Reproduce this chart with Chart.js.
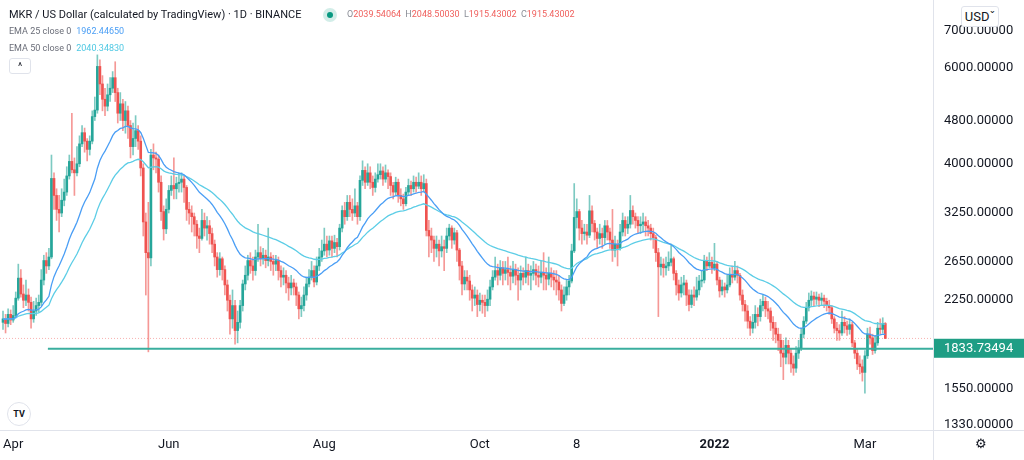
<!DOCTYPE html>
<html lang="en">
<head>
<meta charset="UTF-8">
<title>MKR / US Dollar</title>
<script src="https://cdn.jsdelivr.net/npm/chart.js"></script>
<style>
  body { margin: 0; background: #fff; font-family: Roboto, "Noto Sans", sans-serif; color: #131722; }
  #wrap { position: relative; width: 1024px; height: 460px; overflow: hidden; }
  #chart { position: absolute; left: 0; top: 0; }
  .ov { position: absolute; white-space: nowrap; line-height: 1; }
  .title { left: 9px; top: 9px; font-size: 11px; }
  .dot { left: 323px; top: 8px; width: 14px; height: 14px; border-radius: 50%; background: rgba(8,153,129,0.18); }
  .dot::after { content: ""; position: absolute; left: 4px; top: 4px; width: 6px; height: 6px; border-radius: 50%; background: #089981; }
  .ohlc { left: 347px; top: 10px; font-size: 9px; color: #f0605d; word-spacing: 2px; }
  .ohlc b { font-weight: normal; color: #8a8d96; }
  .ema { left: 9px; font-size: 9px; color: #6a6d78; }
  .ema span { margin-left: 5px; }
  .btn { left: 9px; top: 58px; width: 20px; height: 14px; border: 1px solid #e0e3eb; border-radius: 3px; font-size: 10px; text-align: center; line-height: 16px; color: #131722; background: #fff; }
  .usd { left: 961px; top: 6px; width: 36px; height: 19px; border: 1px solid #e0e3eb; border-radius: 3px; font-size: 13px; line-height: 19px; text-align: center; background: #fff; }
  .logo { left: 7px; top: 402px; width: 22px; height: 22px; border-radius: 50%; border: 1px solid #e0e3eb; font-size: 9px; font-weight: bold; text-align: center; line-height: 22px; background: #fff; }
  .gear { left: 975px; top: 437px; font-size: 13px; color: #131722; }
</style>
</head>
<body>
<div id="wrap">
  <canvas id="chart" width="1024" height="460"></canvas>
  <div class="ov title">MKR / US Dollar (calculated by TradingView) · 1D · BINANCE</div>
  <div class="ov dot"></div>
  <div class="ov ohlc"><b>O</b>2039.54064 <b>H</b>2048.50030 <b>L</b>1915.43002 <b>C</b>1915.43002</div>
  <div class="ov ema" style="top:27px">EMA 25 close 0<span style="color:#4a9ef5">1962.44650</span></div>
  <div class="ov ema" style="top:44px">EMA 50 close 0<span style="color:#4fc8e3">2040.34830</span></div>
  <div class="ov btn">^</div>
  <div class="ov usd">USD&#711;</div>
  <div class="ov logo">TV</div>
  <div class="ov gear">&#9881;</div>
</div>
<script>
// daily MKR/USD candles from 2021-03-28, open = previous close
const firstOpen = 2050;
const closes = [
  2080, 2040, 2120, 2070, 2110, 2270, 2470, 2310, 2250, 2300,
  2230, 2080, 2150, 2200, 2230, 2450, 2660, 2600, 2700, 3760,
  3500, 3300, 3250, 3430, 3550, 3800, 4040, 3900, 3850, 4000,
  4350, 4560, 4400, 4250, 4400, 4880, 5016, 6030, 5600, 5250,
  5100, 5350, 5500, 5750, 5400, 4950, 5150, 4800, 5000, 4700,
  4300, 4450, 4600, 4400, 3930, 3130, 2750, 2690, 4150, 4100,
  4080, 3700, 3270, 3040, 3300, 3575, 3650, 3600, 3680, 3700,
  3750, 3620, 3300, 3250, 3200, 3100, 2950, 2920, 3150, 3050,
  3080, 2980, 2850, 2700, 2560, 2680, 2560, 2400, 2250, 2080,
  2200, 1980, 2050, 2200, 2410, 2500, 2660, 2600, 2550, 2700,
  2750, 2680, 2720, 2660, 2700, 2650, 2620, 2660, 2550, 2480,
  2500, 2420, 2370, 2420, 2380, 2300, 2170, 2200, 2300, 2410,
  2480, 2550, 2430, 2600, 2700, 2770, 2850, 2780, 2890, 2800,
  2870, 2820, 3050, 3285, 3200, 3400, 3300, 3250, 3350, 3200,
  3730, 3890, 3700, 3850, 3700, 3620, 3750, 3820, 3880, 3750,
  3850, 3790, 3650, 3550, 3700, 3500, 3450, 3380, 3550, 3650,
  3600, 3700, 3640, 3700, 3600, 3680, 3020, 2950, 2900, 2800,
  2850, 2770, 2820, 2800, 2950, 3050, 2900, 2990, 2780, 2600,
  2410, 2480, 2440, 2350, 2270, 2300, 2210, 2250, 2230, 2200,
  2260, 2380, 2480, 2550, 2500, 2580, 2520, 2560, 2530, 2490,
  2560, 2500, 2450, 2520, 2480, 2550, 2500, 2520, 2560, 2500,
  2480, 2530, 2500, 2460, 2520, 2480, 2450, 2430, 2350, 2220,
  2300, 2380, 2440, 2770, 3190, 3270, 3050, 2980, 3000, 2960,
  3280, 3110, 3000, 2920, 2980, 2930, 3080, 3000, 2900, 2780,
  2850, 2800, 3000, 3150, 3050, 3100, 3285, 3200, 3150, 3080,
  3100, 3130, 3080, 3050, 2980, 2930, 2750, 2590, 2620, 2580,
  2600, 2640, 2680, 2520, 2400, 2320, 2400, 2420, 2300, 2210,
  2300, 2280, 2350, 2440, 2450, 2660, 2600, 2640, 2580, 2620,
  2450, 2340, 2380, 2350, 2400, 2500, 2480, 2550, 2500, 2300,
  2210, 2150, 2060, 2000, 2050, 2120, 2100, 2200, 2240, 2170,
  2150, 2050, 2000, 1950, 1900, 1800, 1770, 1860, 1800, 1720,
  1690, 1800, 1840, 1950, 2060, 2180, 2250, 2290, 2260, 2280,
  2250, 2270, 2240, 2200, 2180, 2080, 2000, 1980, 1960, 2050,
  2020, 1990, 2030, 1880, 1800, 1720, 1700, 1660, 1780, 1950,
  1920, 1820, 1880, 2000, 1990, 2039.54, 1915.43
];
const highs = [
  2150, 2120, 2170, 2160, 2200, 2330, 2620, 2560, 2400, 2450,
  2360, 2280, 2240, 2270, 2300, 2560, 2720, 2750, 2800, 4150,
  3850, 3600, 3500, 3600, 3750, 3950, 4150, 4950, 4100, 4300,
  4500, 4700, 4650, 4450, 4500, 5000, 5300, 6330, 6200, 5800,
  5500, 5600, 5750, 5900, 6150, 5500, 5400, 5250, 5200, 5100,
  4800, 4750, 4900, 4700, 4500, 4000, 3250, 3400, 4250, 4350,
  4200, 4150, 3800, 3350, 3450, 3650, 3800, 4100, 3780, 3850,
  3850, 3800, 3650, 3400, 3350, 3250, 3150, 3050, 3300, 3250,
  3200, 3150, 3050, 2900, 2750, 2750, 2700, 2600, 2450, 2300,
  2350, 2250, 2150, 2250, 2450, 2600, 2720, 2750, 2700, 2780,
  3100, 2820, 2800, 2780, 3050, 2750, 2720, 2720, 2700, 2600,
  2580, 2550, 2480, 2500, 2460, 2420, 2330, 2280, 2380, 2480,
  2560, 2650, 2600, 2700, 2800, 2900, 3050, 2950, 2950, 2950,
  2960, 2920, 3100, 3350, 3400, 3500, 3500, 3450, 3600, 3400,
  3800, 4050, 3950, 4000, 3950, 3800, 3850, 4000, 4000, 3950,
  3980, 3900, 3850, 3700, 3780, 3750, 3600, 3520, 3620, 3750,
  3720, 3800, 3780, 3850, 3800, 3820, 3750, 3150, 3050, 2950,
  2950, 2900, 2950, 2900, 3050, 3100, 3080, 3050, 3020, 2800,
  2650, 2550, 2550, 2500, 2400, 2380, 2350, 2320, 2300, 2300,
  2350, 2450, 2550, 2700, 2620, 2660, 2650, 2650, 2700, 2600,
  2650, 2620, 2580, 2600, 2580, 2700, 2620, 2600, 2650, 2620,
  2600, 2650, 2750, 2580, 2700, 2580, 2550, 2550, 2500, 2400,
  2380, 2450, 2500, 2850, 3680, 3450, 3300, 3150, 3100, 3100,
  3500, 3350, 3150, 3050, 3100, 3050, 3150, 3150, 3050, 3300,
  2950, 2900, 3100, 3250, 3200, 3200, 3500, 3350, 3250, 3200,
  3200, 3250, 3200, 3150, 3100, 3050, 2960, 2800, 2700, 2680,
  2700, 2760, 2850, 2700, 2550, 2450, 2480, 2500, 2450, 2350,
  2350, 2380, 2480, 2500, 2550, 2720, 2700, 2750, 2700, 2860,
  2650, 2480, 2450, 2420, 2500, 2580, 2600, 2650, 2600, 2520,
  2350, 2250, 2200, 2100, 2120, 2200, 2180, 2260, 2300, 2280,
  2240, 2180, 2100, 2050, 2000, 1950, 1900, 1920, 1900, 1830,
  1780, 1850, 1900, 2000, 2100, 2230, 2320, 2340, 2330, 2330,
  2310, 2320, 2300, 2270, 2250, 2200, 2100, 2050, 2030, 2150,
  2100, 2060, 2080, 2050, 1900, 1830, 1780, 1750, 1820, 2000,
  2010, 1950, 1940, 2050, 2080, 2090, 2048.5
];
const lows = [
  1990, 1960, 2010, 2030, 2050, 2090, 2250, 2280, 2180, 2200,
  2150, 2000, 2050, 2110, 2140, 2200, 2400, 2520, 2560, 2680,
  3300, 3150, 3000, 3200, 3350, 3500, 3750, 3850, 3500, 3800,
  3950, 4300, 4200, 4050, 4150, 4350, 4800, 4950, 5350, 5000,
  4900, 5000, 5200, 5400, 5200, 4750, 4800, 4600, 4550, 4450,
  4100, 4150, 4300, 4250, 3800, 2950, 2300, 1810, 2600, 3900,
  3850, 3550, 3150, 2900, 2980, 3250, 3500, 3450, 3450, 3550,
  3550, 3400, 3150, 3100, 3000, 2950, 2800, 2750, 2900, 2950,
  2900, 2850, 2750, 2600, 2480, 2500, 2450, 2300, 2150, 1950,
  2000, 1870, 1880, 2000, 2150, 2350, 2450, 2520, 2450, 2500,
  2650, 2600, 2620, 2580, 2600, 2550, 2500, 2550, 2450, 2380,
  2400, 2320, 2250, 2300, 2300, 2200, 2080, 2100, 2150, 2250,
  2380, 2450, 2380, 2400, 2550, 2650, 2720, 2700, 2720, 2700,
  2750, 2700, 2780, 3000, 3100, 3150, 3200, 3150, 3200, 3100,
  3150, 3650, 3600, 3650, 3600, 3500, 3550, 3700, 3750, 3650,
  3700, 3600, 3500, 3450, 3500, 3400, 3350, 3300, 3350, 3500,
  3500, 3550, 3550, 3600, 3500, 3550, 2950, 2700, 2750, 2650,
  2700, 2600, 2700, 2550, 2750, 2900, 2800, 2850, 2650, 2450,
  2300, 2350, 2350, 2250, 2150, 2200, 2100, 2150, 2130, 2100,
  2150, 2200, 2350, 2450, 2400, 2450, 2400, 2450, 2400, 2350,
  2420, 2400, 2250, 2350, 2400, 2420, 2400, 2350, 2450, 2400,
  2380, 2420, 2350, 2350, 2400, 2380, 2350, 2300, 2250, 2150,
  2200, 2250, 2300, 2420, 2750, 3050, 2900, 2850, 2900, 2850,
  2930, 3000, 2900, 2800, 2850, 2800, 2850, 2900, 2800, 2650,
  2700, 2600, 2780, 2950, 2950, 2980, 3050, 3100, 3050, 2980,
  2980, 3000, 2950, 2950, 2900, 2800, 2650, 2100, 2500, 2480,
  2500, 2550, 2600, 2450, 2300, 2250, 2280, 2300, 2200, 2150,
  2180, 2200, 2250, 2300, 2380, 2420, 2550, 2580, 2520, 2550,
  2400, 2280, 2300, 2280, 2320, 2380, 2420, 2450, 2420, 2250,
  2150, 2060, 2000, 1940, 1960, 2000, 2020, 2060, 2150, 2100,
  2080, 1980, 1900, 1880, 1820, 1700, 1610, 1720, 1720, 1660,
  1640, 1660, 1760, 1820, 1920, 2040, 2150, 2200, 2200, 2210,
  2190, 2200, 2180, 2150, 2120, 2040, 1960, 1900, 1900, 1940,
  1960, 1940, 1950, 1850, 1760, 1680, 1650, 1600, 1520, 1760,
  1870, 1790, 1800, 1860, 1950, 1960, 1915.43
];

const startDate = Date.UTC(2021, 2, 28);
const dates = closes.map((_, i) => new Date(startDate + i * 86400000).toISOString().slice(0, 10));

const tickDates = ["2021-04-01", "2021-06-01", "2021-08-01", "2021-10-01", "2021-11-08", "2022-01-01", "2022-03-01"];
const tickLabels = ["Apr", "Jun", "Aug", "Oct", "8", "2022", "Mar"];
const priceTicks = [7000, 6000, 4800, 4000, 3250, 2650, 2250, 1550, 1330];

const supportLevel = 1833.73494;
const supportFrom = 17.6;      // candle index where the drawn level starts
const lastPrice = closes[closes.length - 1];

const opens = closes.map((c, i) => i === 0 ? firstOpen : closes[i - 1]);

function ema(values, len) {
  const k = 2 / (len + 1);
  const out = [];
  values.forEach((v, i) => out.push(i === 0 ? v : v * k + out[i - 1] * (1 - k)));
  return out;
}
const ema25 = ema(closes, 25);
const ema50 = ema(closes, 50);

const GREEN = "#26a69a", RED = "#ef5350";
const isUp = closes.map((c, i) => c >= opens[i]);

const xMin = -1.18, xMax = 364.7;
const yMin = 1302, yMax = 7878;
const tickIdx = tickDates.map(d => dates.indexOf(d));

const frame = {
  id: "frame",
  afterDraw(chart) {
    const c = chart.ctx, a = chart.chartArea;
    const py = chart.scales.y.getPixelForValue(supportLevel);
    c.save();
    c.strokeStyle = "#e0e3eb";
    c.lineWidth = 1;
    c.beginPath();
    c.moveTo(a.right + 0.5, 0); c.lineTo(a.right + 0.5, chart.height);
    c.moveTo(0, a.bottom + 0.5); c.lineTo(chart.width, a.bottom + 0.5);
    c.stroke();
    c.fillStyle = "#1f9e85";
    c.fillRect(a.right + 1, py - 10, chart.width - a.right - 1, 19);
    c.fillStyle = "#fff";
    c.font = "13px Roboto";
    c.textBaseline = "middle";
    c.fillText(supportLevel.toFixed(5), a.right + 11, py);
    c.restore();
  }
};

new Chart(document.getElementById("chart"), {
  type: "bar",
  data: {
    datasets: [
      {
        type: "line", label: "EMA 25",
        data: ema25.map((v, i) => ({ x: i, y: v })),
        borderColor: "#4a9ef5", borderWidth: 1.3, pointRadius: 0, tension: 0
      },
      {
        type: "line", label: "EMA 50",
        data: ema50.map((v, i) => ({ x: i, y: v })),
        borderColor: "#5ccde6", borderWidth: 1.3, pointRadius: 0, tension: 0
      },
      {
        type: "line", label: "level",
        data: [{ x: supportFrom, y: supportLevel }, { x: xMax, y: supportLevel }],
        borderColor: "#3aae9e", borderWidth: 2, pointRadius: 0
      },
      {
        type: "line", label: "last",
        data: [{ x: xMin, y: lastPrice }, { x: xMax, y: lastPrice }],
        borderColor: "rgba(239,83,80,0.45)", borderWidth: 1, borderDash: [1, 2], pointRadius: 0
      },
      {
        label: "body",
        data: closes.map((c, i) => ({ x: i, y: [opens[i], c] })),
        backgroundColor: isUp.map(u => u ? GREEN : RED),
        barThickness: 2, minBarLength: 1, grouped: false
      },
      {
        label: "wick",
        data: closes.map((c, i) => ({ x: i, y: [lows[i], highs[i]] })),
        backgroundColor: isUp.map(u => u ? "rgba(38,166,154,0.6)" : "rgba(239,83,80,0.6)"),
        barThickness: 1, grouped: false
      }
    ]
  },
  options: {
    responsive: false,
    animation: false,
    devicePixelRatio: 1,
    layout: { padding: { top: 3, left: 0, right: 0, bottom: 0 } },
    plugins: { legend: { display: false }, tooltip: { enabled: false } },
    scales: {
      x: {
        type: "linear", min: xMin, max: xMax, offset: false,
        grid: { display: false, drawTicks: false },
        border: { display: false },
        afterBuildTicks: s => { s.ticks = tickIdx.map(v => ({ value: v })); },
        afterFit: s => { s.height = 30; s.paddingLeft = 0; s.paddingRight = 0; },
        ticks: {
          autoSkip: false, maxRotation: 0, padding: 7, color: "#131722",
          font: c => ({ family: "Roboto", size: 13, weight: tickLabels[c.index] === "2022" ? "bold" : "normal" }),
          callback: (v, i) => tickLabels[i]
        }
      },
      y: {
        type: "logarithmic", position: "right", min: yMin, max: yMax,
        grid: { display: false, drawTicks: false },
        border: { display: false },
        afterBuildTicks: s => { s.ticks = priceTicks.map(v => ({ value: v })); },
        afterFit: s => { s.width = 91; s.paddingTop = 0; s.paddingBottom = 0; },
        ticks: {
          autoSkip: false, padding: 11, color: "#131722",
          font: { family: "Roboto", size: 13 },
          callback: v => Number(v).toFixed(5)
        }
      }
    }
  },
  plugins: [frame]
});
</script>
</body>
</html>
